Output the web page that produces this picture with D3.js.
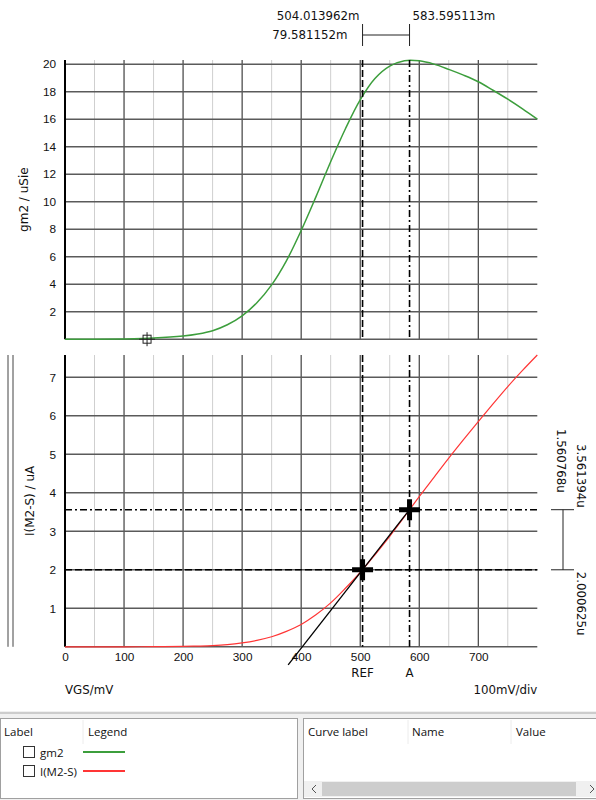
<!DOCTYPE html>
<html>
<head>
<meta charset="utf-8">
<script src="https://cdn.jsdelivr.net/npm/d3@7"></script>
<style>
  body { margin: 0; background: #fff; }
  svg { display: block; font-family: "DejaVu Sans", sans-serif; }
  .tick text { font-size: 11.8px; fill: #111; }
</style>
</head>
<body>
<svg id="chart" width="596" height="800"></svg>
<script>
// sweep points, mV
var vgsMv = [0, 50, 100, 150, 200, 225, 250, 275, 300, 325, 350, 375, 400, 425, 450, 475, 500, 525, 550, 575, 600, 625, 650, 675, 700, 725, 750, 775, 800];
// gm2, uSie
var gm2Values = [0, 0, 0.02, 0.08, 0.23, 0.38, 0.62, 1.05, 1.7, 2.65, 3.95, 5.7, 7.9, 10.35, 12.9, 15.3, 17.4, 18.95, 19.85, 20.25, 20.24, 20.0, 19.62, 19.2, 18.72, 18.1, 17.45, 16.75, 16.0];
// I(M2-S), uA
var idsValues = [0, 0, 0, 0.003, 0.01, 0.018, 0.03, 0.055, 0.1, 0.165, 0.26, 0.4, 0.58, 0.83, 1.14, 1.52, 1.93, 2.39, 2.87, 3.38, 3.9, 4.4, 4.9, 5.38, 5.85, 6.31, 6.76, 7.18, 7.58];

var xTicks = [0, 100, 200, 300, 400, 500, 600, 700];
var xMinor = [50, 150, 250, 350, 450, 550, 650, 750];
var gmTicks = [2, 4, 6, 8, 10, 12, 14, 16, 18, 20];
var idsTicks = [1, 2, 3, 4, 5, 6, 7];

// cursors
var cursorNames = ["REF", "A"];
var cursorX = [504.013962, 583.595113];
var cursorY = [2.000625, 3.561394];
var cursorXText = ["504.013962m", "583.595113m"];
var cursorYText = ["2.000625u", "3.561394u"];
var deltaXText = "79.581152m";
var deltaYText = "1.560768u";
var markerPoint = [139, 0];   // small marker on gm2
var tangentFrom = 378;        // mV where the tangent line starts

var svg = d3.select("#chart");

var x = d3.scaleLinear().domain([0, 800]).range([65, 537.3]);
var yTop = d3.scaleLinear().domain([0, 20.3]).range([339.2, 60]);
var yBot = d3.scaleLinear().domain([0, 7.58]).range([646.8, 355]);

function drawPanel(y, ticks, values, color, width, label, labelX) {
  var g = svg.append("g");
  var top = y.range()[1], bottom = y.range()[0];

  g.selectAll(".minor").data(xMinor).enter().append("line")
    .attr("x1", function(d){ return x(d); }).attr("x2", function(d){ return x(d); })
    .attr("y1", top).attr("y2", bottom)
    .attr("stroke", "#cfcfcf").attr("stroke-width", 1);

  g.selectAll(".major").data(xTicks.slice(1)).enter().append("line")
    .attr("x1", function(d){ return x(d); }).attr("x2", function(d){ return x(d); })
    .attr("y1", top).attr("y2", bottom)
    .attr("stroke", "#1a1a1a").attr("stroke-width", 1);

  g.selectAll(".hgrid").data([0].concat(ticks)).enter().append("line")
    .attr("x1", x(0)).attr("x2", x(800))
    .attr("y1", function(d){ return y(d); }).attr("y2", function(d){ return y(d); })
    .attr("stroke", "#5a5a5a").attr("stroke-width", 1.5);

  g.append("line")
    .attr("x1", x(0)).attr("x2", x(0)).attr("y1", top).attr("y2", bottom)
    .attr("stroke", "#000").attr("stroke-width", 2);

  var axis = g.append("g")
    .attr("transform", "translate(" + (x(0) - 1) + ",0)")
    .call(d3.axisLeft(y).tickValues(ticks).tickSize(0).tickPadding(8));
  axis.select(".domain").remove();

  svg.append("text")
    .attr("transform", "translate(" + labelX + "," + ((top + bottom) / 2) + ") rotate(-90)")
    .attr("text-anchor", "middle")
    .attr("font-size", 12)
    .attr("fill", "#111")
    .text(label);

  var line = d3.line()
    .x(function(d, i){ return x(vgsMv[i]); })
    .y(function(d){ return y(d); })
    .curve(d3.curveCatmullRom.alpha(0.5));

  return g.append("path")
    .datum(values)
    .attr("d", line)
    .attr("fill", "none")
    .attr("stroke", color)
    .attr("stroke-width", width);
}

drawPanel(yTop, gmTicks, gm2Values, "#3c9e3c", 1.5, "gm2 / uSie", 28);
drawPanel(yBot, idsTicks, idsValues, "#ff3535", 1.2, "I(M2-S) / uA", 34);

// double bar left of the lower panel
[8, 13].forEach(function(px) {
  svg.append("line").attr("x1", px).attr("x2", px)
    .attr("y1", yBot.range()[1]).attr("y2", yBot.range()[0])
    .attr("stroke", "#444").attr("stroke-width", 1);
});

// x tick labels
svg.append("g")
  .attr("transform", "translate(0," + (yBot(0) + 1) + ")")
  .call(d3.axisBottom(x).tickValues(xTicks).tickSize(0).tickPadding(5).tickFormat(d3.format("d")))
  .select(".domain").remove();

svg.append("text").attr("x", x(0)).attr("y", 694)
  .attr("font-size", 11.8).attr("fill", "#111").text("VGS/mV");
svg.append("text").attr("x", x(800)).attr("y", 694).attr("text-anchor", "end")
  .attr("font-size", 11.8).attr("fill", "#111").text("100mV/div");

// cursors
var dashes = ["7,3", "7,3,2,3"];
cursorX.forEach(function(cx, i) {
  [yTop, yBot].forEach(function(y) {
    svg.append("line")
      .attr("x1", x(cx)).attr("x2", x(cx))
      .attr("y1", y.range()[1]).attr("y2", y.range()[0])
      .attr("stroke", "#000").attr("stroke-width", 1.6)
      .attr("stroke-dasharray", dashes[i]);
  });
  svg.append("line")
    .attr("x1", x(0)).attr("x2", x(800))
    .attr("y1", yBot(cursorY[i])).attr("y2", yBot(cursorY[i]))
    .attr("stroke", "#000").attr("stroke-width", 1.6)
    .attr("stroke-dasharray", dashes[i]);
  svg.append("text")
    .attr("x", x(cx)).attr("y", 677).attr("text-anchor", "middle")
    .attr("font-size", 11.8).attr("fill", "#111").text(cursorNames[i]);
});

// tangent through both cursor points
var slope = (cursorY[1] - cursorY[0]) / (cursorX[1] - cursorX[0]);
svg.append("line")
  .attr("x1", x(tangentFrom)).attr("y1", yBot(cursorY[0] + slope * (tangentFrom - cursorX[0])))
  .attr("x2", x(cursorX[1])).attr("y2", yBot(cursorY[1]))
  .attr("stroke", "#000").attr("stroke-width", 1.3);

// thick plus markers
cursorX.forEach(function(cx, i) {
  var px = x(cx), py = yBot(cursorY[i]);
  svg.append("path")
    .attr("d", "M" + (px - 10.5) + "," + py + "H" + (px + 10.5) + "M" + px + "," + (py - 10.5) + "V" + (py + 10.5))
    .attr("stroke", "#000").attr("stroke-width", 5);
});

// small marker on gm2
(function() {
  var px = x(markerPoint[0]), py = yTop(markerPoint[1]);
  svg.append("rect").attr("x", px - 4).attr("y", py - 4).attr("width", 8).attr("height", 8)
    .attr("fill", "none").attr("stroke", "#222").attr("stroke-width", 1);
  svg.append("path")
    .attr("d", "M" + (px - 8) + "," + py + "H" + (px + 8) + "M" + px + "," + (py - 7) + "V" + (py + 7))
    .attr("stroke", "#222").attr("stroke-width", 1);
})();

// top delta bracket
svg.append("text").attr("x", x(cursorX[0]) - 3).attr("y", 20).attr("text-anchor", "end")
  .attr("font-size", 11.8).attr("fill", "#111").text(cursorXText[0]);
svg.append("text").attr("x", x(cursorX[1]) + 3).attr("y", 20)
  .attr("font-size", 11.8).attr("fill", "#111").text(cursorXText[1]);
svg.append("text").attr("x", x(cursorX[0]) - 15).attr("y", 39).attr("text-anchor", "end")
  .attr("font-size", 11.8).attr("fill", "#111").text(deltaXText);
svg.append("path")
  .attr("d", "M" + x(cursorX[0]) + ",24V46M" + x(cursorX[1]) + ",24V46M" + x(cursorX[0]) + ",35H" + x(cursorX[1]))
  .attr("stroke", "#222").attr("stroke-width", 1).attr("fill", "none");

// right delta bracket
var ry0 = yBot(cursorY[0]), ry1 = yBot(cursorY[1]);
svg.append("path")
  .attr("d", "M551," + ry0 + "H574M551," + ry1 + "H574M563," + ry0 + "V" + ry1)
  .attr("stroke", "#222").attr("stroke-width", 1).attr("fill", "none");
function vtext(px, py, anchor, s) {
  svg.append("text")
    .attr("transform", "translate(" + px + "," + py + ") rotate(90)")
    .attr("text-anchor", anchor).attr("font-size", 11.8).attr("fill", "#111").text(s);
}
vtext(577, ry1 - 2, "end", cursorYText[1]);
vtext(557, ry1 - 17, "end", deltaYText);
vtext(577, ry0 + 2, "start", cursorYText[0]);

// bottom info panes
var ui = svg.append("g").attr("font-family", "'Open Sans', 'DejaVu Sans', sans-serif").attr("font-size", 11.5).attr("fill", "#111");
ui.append("rect").attr("x", 0).attr("y", 711).attr("width", 596).attr("height", 89).attr("fill", "#f0f0f0");
ui.append("line").attr("x1", 0).attr("x2", 596).attr("y1", 713).attr("y2", 713).attr("stroke", "#a8a8a8");
ui.append("rect").attr("x", 0.5).attr("y", 718.5).attr("width", 297).attr("height", 80).attr("fill", "#fff").attr("stroke", "#a0a0a0");
ui.append("rect").attr("x", 303.5).attr("y", 718.5).attr("width", 293).attr("height", 80).attr("fill", "#fff").attr("stroke", "#a0a0a0");

var leftHeads = [["Label", 4], ["Legend", 88]];
var rightHeads = [["Curve label", 308], ["Name", 412], ["Value", 516]];
leftHeads.concat(rightHeads).forEach(function(h) {
  ui.append("text").attr("x", h[1]).attr("y", 736).text(h[0]);
});
[83, 408, 511].forEach(function(px) {
  ui.append("line").attr("x1", px).attr("x2", px).attr("y1", 720).attr("y2", 744).attr("stroke", "#ececec");
});

var legendNames = ["gm2", "I(M2-S)"];
var legendColors = ["#3c9e3c", "#ff3535"];
legendNames.forEach(function(n, i) {
  var cy = 753 + i * 19;
  ui.append("rect").attr("x", 23.5).attr("y", cy - 6.5).attr("width", 11).attr("height", 11)
    .attr("fill", "#fff").attr("stroke", "#333");
  ui.append("text").attr("x", 40).attr("y", cy + 4).text(n);
  ui.append("line").attr("x1", 83).attr("x2", 125).attr("y1", cy - 1).attr("y2", cy - 1)
    .attr("stroke", legendColors[i]).attr("stroke-width", 2);
});

// scrollbar
ui.append("rect").attr("x", 304).attr("y", 781).attr("width", 292).attr("height", 16).attr("fill", "#f0f0f0");
ui.append("rect").attr("x", 322).attr("y", 782).attr("width", 254).attr("height", 14).attr("fill", "#cdcdcd");
ui.append("path").attr("d", "M316,785L312,789L316,793").attr("fill", "none").attr("stroke", "#555");
ui.append("path").attr("d", "M590,785L594,789L590,793").attr("fill", "none").attr("stroke", "#555");
</script>
</body>
</html>
